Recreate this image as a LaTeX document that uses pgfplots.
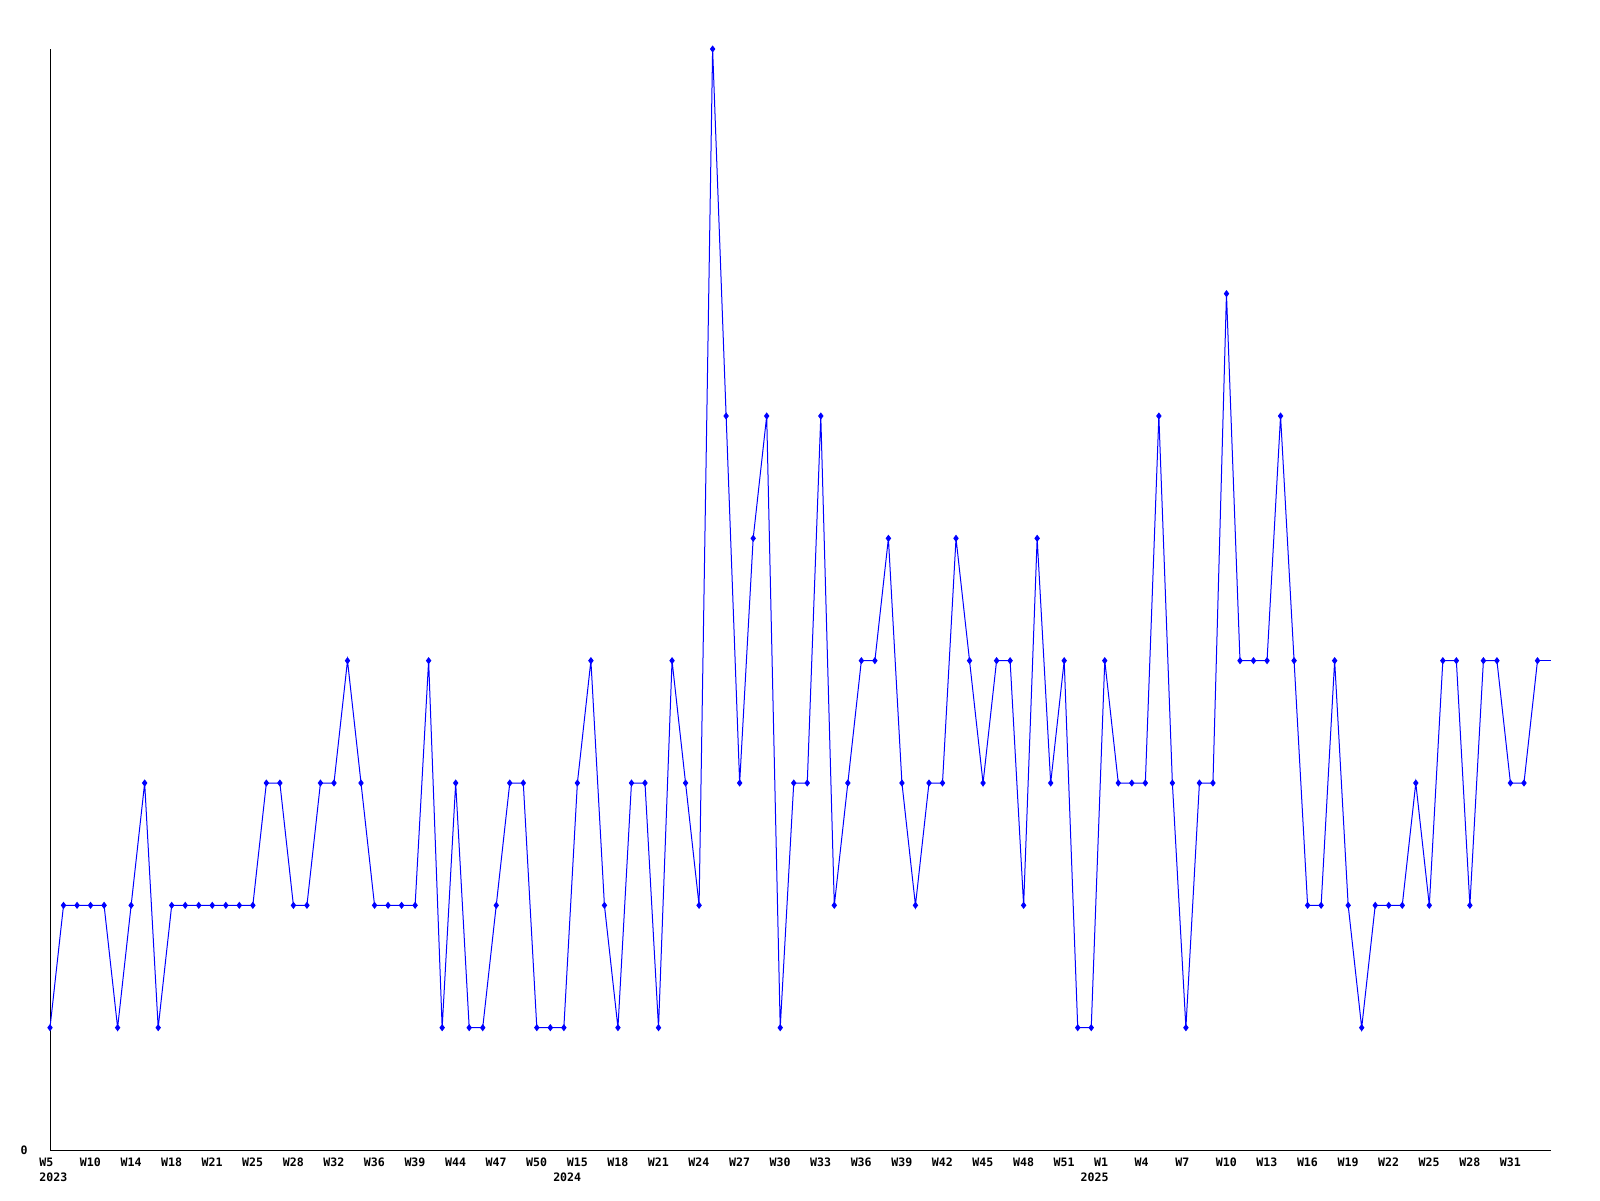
\documentclass[border=0pt]{standalone}
\usepackage{fontspec}
\setmainfont{DejaVu Sans Mono}
\usepackage{pgfplots}
\pgfplotsset{compat=1.18}
\definecolor{pblue}{RGB}{0,0,255}
\begin{document}
\begin{tikzpicture}
\useasboundingbox (-25pt,-25pt) rectangle (775pt,575pt);
\begin{axis}[
  at={(0,0)}, anchor=south west,
  scale only axis, width=750.5pt, height=550.5pt,
  xmin=0, xmax=111, ymin=0, ymax=9,
  axis x line=bottom, axis y line=left,
  axis line style={-, black, line width=0.5pt},
  clip=false,
  major tick length=0pt,
  xtick={0,3,...,108},
  xticklabels={W5,W10,W14,W18,W21,W25,W28,W32,W36,W39,W44,W47,W50,W15,W18,W21,W24,W27,W30,W33,W36,W39,W42,W45,W48,W51,W1,W4,W7,W10,W13,W16,W19,W22,W25,W28,W31},
  ytick={0}, yticklabels={0},
  ticklabel style={font=\fontsize{5.8}{6}\selectfont\bfseries, inner sep=0pt},
  xticklabel style={anchor=north west, xshift=-5.5pt, yshift=-3.6pt},
  yticklabel style={anchor=east, xshift=-11pt},
  extra x ticks={0,38,77},
  extra x tick labels={2023,2024,2025},
  extra x tick style={xticklabel style={yshift=-7.5pt}},
]
\addplot[color=pblue, line width=0.5pt, mark=diamond*, mark size=1.4pt, mark options={solid, fill=pblue}] coordinates {
(0,1)(1,2)(2,2)(3,2)(4,2)(5,1)(6,2)(7,3)(8,1)(9,2)
(10,2)(11,2)(12,2)(13,2)(14,2)(15,2)(16,3)(17,3)(18,2)(19,2)
(20,3)(21,3)(22,4)(23,3)(24,2)(25,2)(26,2)(27,2)(28,4)(29,1)
(30,3)(31,1)(32,1)(33,2)(34,3)(35,3)(36,1)(37,1)(38,1)(39,3)
(40,4)(41,2)(42,1)(43,3)(44,3)(45,1)(46,4)(47,3)(48,2)(49,9)
(50,6)(51,3)(52,5)(53,6)(54,1)(55,3)(56,3)(57,6)(58,2)(59,3)
(60,4)(61,4)(62,5)(63,3)(64,2)(65,3)(66,3)(67,5)(68,4)(69,3)
(70,4)(71,4)(72,2)(73,5)(74,3)(75,4)(76,1)(77,1)(78,4)(79,3)
(80,3)(81,3)(82,6)(83,3)(84,1)(85,3)(86,3)(87,7)(88,4)(89,4)
(90,4)(91,6)(92,4)(93,2)(94,2)(95,4)(96,2)(97,1)(98,2)(99,2)
(100,2)(101,3)(102,2)(103,4)(104,4)(105,2)(106,4)(107,4)(108,3)(109,3)
(110,4)
};
\addplot[color=pblue, line width=0.5pt, no marks] coordinates {(110,4)(111,4)};
\end{axis}
\end{tikzpicture}
\end{document}
